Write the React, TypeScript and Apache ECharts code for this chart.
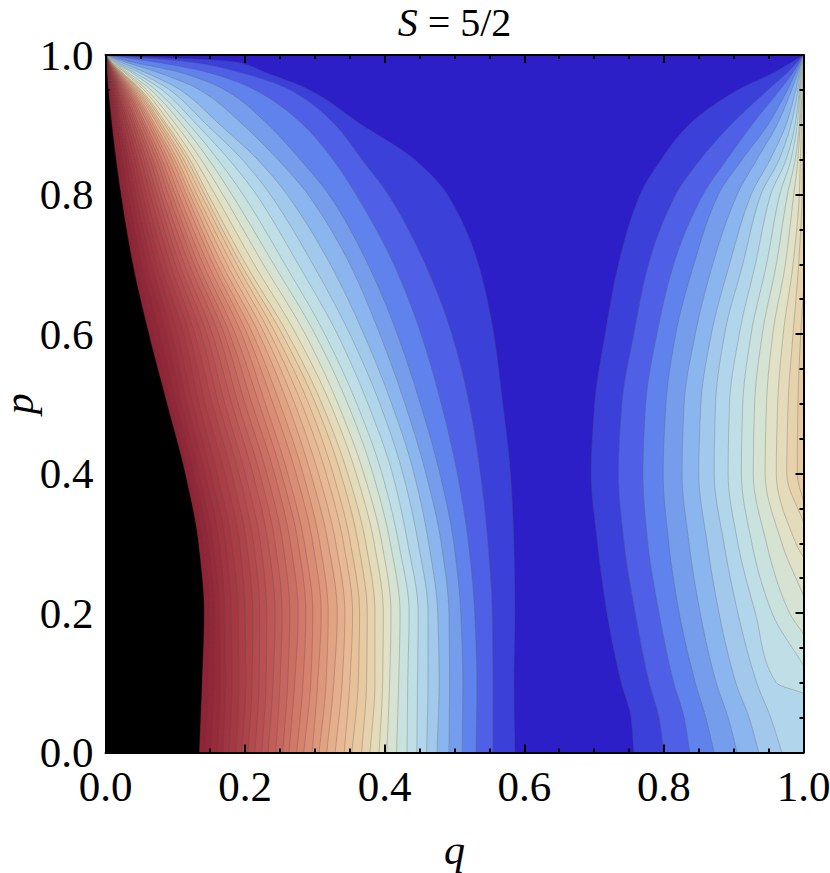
import React, { useEffect, useRef } from "react";
import * as echarts from "echarts";

const titleBefore = "S";
const titleAfter = " = 5/2";
const xName = "q";
const yName = "p";

// p rows at which the contours are read
const leftP = [0, 0.1, 0.2, 0.3, 0.4, 0.5, 0.6, 0.7, 0.8, 0.85, 0.9, 0.95, 0.975, 0.99, 1];

// q of each left contour, outermost first, at each p row
const leftAt000 = [.5865,.555,.531,.511,.492,.475,.46,.446,.432,.417,.403,.392,.379,.367,.353,.342,.329,.317,.306,.296,.284,.274,.263,.254,.244,.233,.224,.214,.204,.195,.187,.177,.168,.16,.151,.142,.134];
const leftAt010 = [.585,.555,.532,.512,.493,.478,.462,.447,.433,.42,.407,.397,.386,.374,.362,.35,.339,.327,.316,.304,.294,.283,.271,.261,.25,.24,.23,.22,.21,.201,.191,.181,.172,.164,.155,.147,.138];
const leftAt020 = [.5865,.554,.529,.509,.492,.476,.462,.448,.435,.422,.409,.398,.386,.375,.364,.354,.343,.332,.319,.309,.297,.287,.276,.264,.253,.243,.231,.221,.211,.2,.19,.18,.171,.163,.156,.149,.141];
const leftAt030 = [.585,.548,.52,.499,.481,.463,.448,.433,.42,.408,.396,.385,.373,.362,.351,.341,.33,.319,.307,.297,.285,.276,.265,.254,.243,.233,.222,.212,.202,.192,.181,.172,.163,.154,.147,.14,.133];
const leftAt040 = [.58,.537,.504,.479,.459,.442,.426,.411,.396,.383,.37,.359,.347,.337,.326,.316,.305,.294,.283,.273,.261,.252,.242,.231,.221,.211,.2,.191,.181,.171,.16,.151,.143,.134,.127,.12,.114];
const leftAt050 = [.569,.521,.481,.451,.429,.41,.393,.376,.36,.347,.333,.322,.31,.301,.291,.281,.271,.261,.25,.24,.229,.22,.21,.2,.19,.181,.171,.162,.153,.143,.134,.125,.117,.109,.102,.095,.088];
const leftAt060 = [.556,.496,.452,.418,.393,.37,.35,.332,.314,.3,.286,.273,.261,.253,.244,.236,.228,.22,.211,.203,.195,.186,.178,.17,.162,.153,.145,.137,.128,.12,.112,.103,.095,.087,.078,.07,.062];
const leftAt070 = [.534,.458,.413,.376,.35,.322,.297,.276,.257,.241,.226,.213,.201,.194,.188,.181,.174,.167,.16,.154,.147,.14,.133,.127,.12,.113,.106,.1,.093,.086,.079,.073,.066,.059,.052,.046,.039];
const leftAt080 = [.4895,.405,.359,.32,.29,.26,.236,.216,.197,.181,.168,.157,.147,.142,.137,.131,.126,.121,.116,.111,.105,.1,.095,.09,.084,.079,.074,.069,.064,.058,.053,.048,.043,.038,.032,.027,.022];
const leftAt085 = [.443,.3675,.326,.279,.247,.218,.196,.177,.161,.148,.137,.128,.121,.117,.112,.108,.103,.099,.095,.09,.086,.081,.077,.073,.068,.064,.059,.055,.051,.046,.042,.037,.033,.029,.024,.02,.015];
const leftAt090 = [.367,.329,.283,.233,.197,.164,.145,.131,.12,.11,.101,.094,.088,.085,.081,.078,.075,.071,.068,.065,.062,.058,.055,.052,.048,.045,.042,.039,.035,.032,.029,.025,.022,.019,.016,.012,.009];
const leftAt095 = [.292,.264,.214,.171,.135,.107,.092,.081,.072,.065,.059,.055,.051,.049,.047,.045,.043,.041,.039,.037,.035,.033,.031,.029,.027,.025,.023,.021,.019,.017,.016,.014,.012,.01,.008,.006,.004];
const leftAt0975 = [.229,.193,.147,.107,.075,.057,.048,.041,.037,.032,.029,.027,.024,.0231,.0222,.0213,.0203,.0194,.0185,.0176,.0167,.0157,.0148,.0139,.013,.0121,.0112,.0103,.0093,.0084,.0075,.0066,.0057,.0047,.0038,.0029,.002];
const leftAt099 = [.186,.121,.071,.038,.028,.021,.016,.014,.012,.011,.009,.0086,.0079,.0076,.0073,.007,.0067,.0064,.0061,.0059,.0056,.0053,.005,.0047,.0044,.0041,.0038,.0035,.0032,.0029,.0027,.0024,.0021,.0018,.0015,.0012,.001];
const leftRows = [leftAt000, leftAt010, leftAt020, leftAt030, leftAt040, leftAt050, leftAt060, leftAt070, leftAt080, leftAt085, leftAt090, leftAt095, leftAt0975, leftAt099];

// right contours, one list per contour: q at each row of rightP (null = off the plot)
const rightP = [0, 0.05, 0.1, 0.2, 0.3, 0.4, 0.5, 0.6, 0.7, 0.8, 0.85, 0.9, 0.95, 0.975];
const right1 = [.757,.753,.739,.7185,.705,.696,.701,.716,.735,.766,.796,.836,.906,.958];
const right2 = [.8,.793,.779,.759,.743,.735,.74,.757,.778,.817,.852,.896,.949,.977];
const right3 = [.837,.829,.814,.793,.777,.77,.774,.79,.814,.856,.89,.926,.966,.985];
const right4 = [.872,.86,.845,.822,.807,.799,.803,.817,.843,.878,.912,.949,.977,.989];
const right5 = [.905,.892,.875,.852,.836,.826,.829,.845,.87,.905,.933,.962,.983,.992];
const right6 = [.936,.922,.903,.879,.862,.85,.853,.868,.894,.925,.952,.975,.989,.994];
const right7 = [.969,.953,.933,.906,.886,.872,.874,.887,.913,.939,.965,.982,.992,.995];
const right8 = [null,null,.961,.931,.906,.892,.894,.908,.931,.953,.975,.988,.994,.996];
const right9 = [null,null,null,.955,.926,.911,.913,.925,.947,.966,.982,.991,.995,.997];
const right10 = [null,null,null,.98,.947,.928,.93,.941,.961,.977,.988,.994,.996,.998];
const right11 = [null,null,null,null,.969,.945,.947,.956,.974,.986,.992,.995,.998,.9985];
const right12 = [null,null,null,null,.989,.961,.963,.971,.985,.994,.9955,.997,.9985,.9993];
const right13 = [null,null,null,null,null,.976,.978,.985,.993,.998,.9985,.9993,.9995,.9997];
const right14 = [null,null,null,null,null,.991,.992,.996,null,null,null,null,null,null];
const rightContours = [right1, right2, right3, right4, right5, right6, right7, right8, right9, right10, right11, right12, right13, right14];
// p at which a contour meets the right edge, below and above its rows
const rightEndLow = [null, null, null, null, null, null, null, 0.085, 0.125, 0.17, 0.225, 0.28, 0.33, 0.36];
const rightEndHigh = [1, 1, 1, 1, 1, 1, 1, 1, 1, 1, 1, 1, 1, 0.66];

const bandColors = ["#2c1fc8","#3b40d9","#4f60e6","#5f82ec","#769dec","#8bb5ef","#a2c8ec","#b1d6ec","#bfdee6","#cae2de","#d6e2d2","#e0e1c6","#e4dbba","#e6d2ac","#e7c9a2","#e8c19b","#e8b994","#e5ae8c","#e2a284","#df977c","#db8c75","#d6826f","#d17869","#cc6f63","#c7665e","#c25e5a","#bd5656","#b85052","#b34a4e","#ae444a","#a93e46","#a53943","#a03440","#9b2f3d","#972b3a","#932738","#8f2436","#000000"];

type Pt = [number, number];

// shape-preserving curve through [q, p] points, q as a function of p
function sampleCurve(pts: Pt[]): Pt[] {
  const n = pts.length;
  if (n < 3) return pts;
  const d: number[] = [];
  for (let i = 0; i < n - 1; i++) d.push((pts[i + 1][0] - pts[i][0]) / (pts[i + 1][1] - pts[i][1]));
  const m: number[] = [d[0]];
  for (let i = 1; i < n - 1; i++) {
    if (d[i - 1] * d[i] <= 0) m.push(0);
    else {
      const h0 = pts[i][1] - pts[i - 1][1];
      const h1 = pts[i + 1][1] - pts[i][1];
      const w0 = 2 * h1 + h0;
      const w1 = h1 + 2 * h0;
      m.push((w0 + w1) / (w0 / d[i - 1] + w1 / d[i]));
    }
  }
  m.push(d[n - 2]);
  const out: Pt[] = [];
  for (let i = 0; i < n - 1; i++) {
    const h = pts[i + 1][1] - pts[i][1];
    for (let k = 0; k < 12; k++) {
      const t = k / 12;
      const h00 = 2 * t * t * t - 3 * t * t + 1;
      const h10 = t * t * t - 2 * t * t + t;
      const h01 = -2 * t * t * t + 3 * t * t;
      const h11 = t * t * t - t * t;
      out.push([
        h00 * pts[i][0] + h10 * h * m[i] + h01 * pts[i + 1][0] + h11 * h * m[i + 1],
        pts[i][1] + t * h,
      ]);
    }
  }
  out.push(pts[n - 1]);
  return out;
}

type Region = { curve: Pt[]; closing: Pt[]; color: string; line: boolean };
const regions: Region[] = [];
regions.push({ curve: [[0, 0], [1, 0]], closing: [[1, 1], [0, 1]], color: bandColors[0], line: false });

rightContours.forEach((row, j) => {
  const pts: Pt[] = [];
  const low = rightEndLow[j];
  if (low !== null) pts.push([1, low]);
  row.forEach((q, r) => {
    if (q !== null) pts.push([q, rightP[r]]);
  });
  pts.push([1, rightEndHigh[j]]);
  const closing: Pt[] = low === null ? [[1, 0]] : [];
  regions.push({ curve: pts, closing, color: bandColors[j + 1], line: true });
});

leftRows[0].forEach((_, i) => {
  const pts: Pt[] = leftRows.map((row, r) => [row[i], leftP[r]] as Pt);
  pts.push([0, leftP[leftP.length - 1]]);
  regions.push({ curve: pts, closing: [[0, 0]], color: bandColors[i + 1], line: i < leftRows[0].length - 1 });
});

export default function App() {
  const ref = useRef<HTMLDivElement>(null);
  useEffect(() => {
    const chart = echarts.init(ref.current!, undefined, { renderer: "svg" });
    const frameAxis = {
      type: "value" as const,
      min: 0,
      max: 1,
      interval: 0.2,
      z: 10,
      splitLine: { show: false },
      axisLine: { show: true, onZero: false, lineStyle: { color: "#000", width: 2 } },
      axisTick: { show: true, inside: true, length: 8, lineStyle: { color: "#000", width: 2 } },
      minorTick: { show: true, splitNumber: 4, length: 4, lineStyle: { color: "#000", width: 2 } },
    };
    const labelStyle = {
      show: true,
      color: "#000",
      fontFamily: "Liberation Serif",
      fontSize: 43,
      formatter: (v: number) => v.toFixed(1),
    };
    const nameStyle = { color: "#000", fontFamily: "Liberation Serif", fontStyle: "italic" as const, fontSize: 42 };
    chart.setOption({
      animation: false,
      title: {
        text: `{s|${titleBefore}}{n|${titleAfter}}`,
        left: 454.5,
        top: 1,
        padding: 0,
        textAlign: "center",
        textStyle: {
          fontWeight: "normal",
          rich: {
            s: { fontFamily: "Liberation Serif", fontStyle: "italic", fontWeight: "normal", fontSize: 40, lineHeight: 42, color: "#000" },
            n: { fontFamily: "Liberation Serif", fontWeight: "normal", fontSize: 40, lineHeight: 42, color: "#000" },
          },
        },
      },
      grid: { left: 105.5, top: 55, width: 698, height: 697.5, show: false, outerBoundsMode: "none" },
      xAxis: [
        { ...frameAxis, position: "bottom", name: xName, nameLocation: "middle", nameGap: 76, nameMoveOverlap: false, nameTextStyle: nameStyle, axisLabel: { ...labelStyle, margin: 12 } },
        { ...frameAxis, position: "top", axisLabel: { show: false } },
      ],
      yAxis: [
        { ...frameAxis, position: "left", name: yName, nameLocation: "middle", nameGap: 66, nameMoveOverlap: false, nameTextStyle: nameStyle, axisLabel: { ...labelStyle, margin: 12 } },
        { ...frameAxis, position: "right", axisLabel: { show: false } },
      ],
      series: [
        {
          type: "custom",
          coordinateSystem: "cartesian2d",
          silent: true,
          clip: true,
          data: regions.map((_, i) => [i]),
          encode: { x: -1, y: -1 },
          renderItem: (params: any, api: any) => {
            const region = regions[api.value(0)];
            const curve = sampleCurve(region.curve).map((pt) => api.coord(pt));
            const closing = region.closing.map((pt) => api.coord(pt));
            const children: any[] = [
              {
                type: "polygon",
                shape: { points: [...curve, ...closing] },
                style: { fill: region.color, stroke: region.color, lineWidth: 0.3 },
              },
            ];
            if (region.line) {
              children.push({
                type: "polyline",
                shape: { points: curve },
                style: { fill: "none", stroke: "rgba(80,80,80,0.28)", lineWidth: 1 },
              });
            }
            return { type: "group", children };
          },
        },
      ],
    });
    return () => chart.dispose();
  }, []);
  return <div ref={ref} style={{ position: "absolute", left: 0, top: 0, width: 830, height: 873 }} />;
}
